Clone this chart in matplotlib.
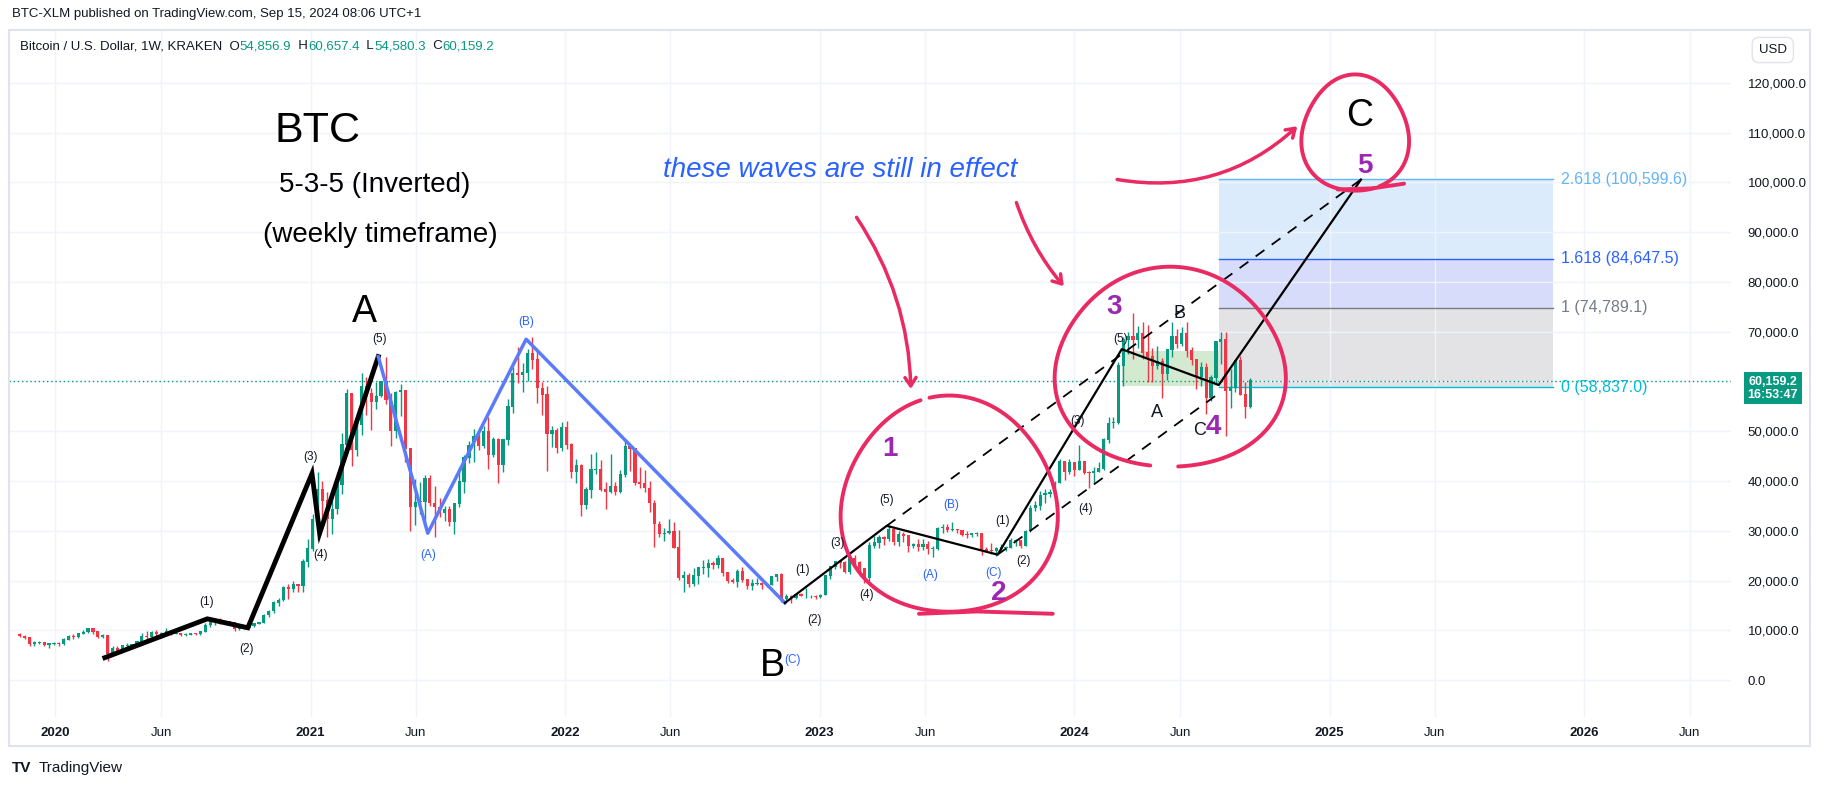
import numpy as np
import pandas as pd
import matplotlib
matplotlib.use("Agg")
import matplotlib.pyplot as plt
import matplotlib.dates as mdates
import matplotlib.transforms as mtrans
from matplotlib.patches import Rectangle, FancyArrowPatch

plt.rcParams["font.family"] = "Liberation Sans"

# ---------------- DATA (weekly BTC/USD, thousands USD) ----------------
first_open = 9.2
closes = [
 8.8,8.5,7.3,7.4, 7.5,7.1,7.2,7.3,7.2,
 8.0,8.7,8.6,9.3, 9.6,10.3,9.7,8.7, 8.9,5.3,6.2,5.9,6.8, 6.9,7.1,7.6,8.8,
 8.7,9.6,9.2,9.4, 9.7,9.3,9.3,9.1,9.1, 9.3,9.2,9.7,11.0, 11.6,11.9,11.6,11.7,11.5,
 10.3,10.4,10.5,10.8, 11.3,11.5,13.0,13.8, 15.5,16.0,18.6,18.2,19.2, 18.8,23.8,26.4,32.2,
 38.2,36.0,32.3,34.3, 39.2,47.2,57.5,46.3, 51.2,59.0,57.5,55.8,57.0, 60.0,56.2,50.0,57.8,
 58.2,46.4,34.7,35.7,35.8, 40.5,35.5,34.7,33.5, 34.3,31.8,35.4,39.9, 44.6,47.1,48.8,47.0,49.9,
 45.2,48.3,43.2,48.2, 54.9,61.5,61.3,61.8, 65.5,64.3,58.6,57.3,49.4, 50.1,46.7,50.8,47.3,
 41.8,43.1,35.1,38.2, 42.2,42.2,38.2,37.7, 38.9,37.8,41.3,46.8, 46.4,39.7,39.4,38.5,
 35.5,31.3,29.4,29.5,29.9, 26.6,20.6,21.0,19.3, 20.9,22.5,22.5,23.3, 23.2,24.4,21.5,20.0,19.8,
 21.8,20.1,18.8,19.4, 19.4,19.2,19.2,20.8,21.2, 16.3,16.7,16.5,17.1, 16.8,16.8,16.8,16.6,
 17.0,20.9,22.8,23.8,23.5, 21.7,24.3,23.5,22.4, 20.5,26.9,27.5,28.5, 28.3,30.3,27.8,29.3,
 28.9,26.9,27.1,26.7,27.1, 26.3,26.3,30.5,30.6, 30.2,30.3,30.1,29.2,29.1, 29.4,29.4,26.1,26.0,
 25.9,26.3,26.5,26.6, 27.9,27.9,26.9,29.9,34.5, 35.0,37.1,37.4,37.7, 39.5,43.8,41.9,43.6,
 42.3,43.9,41.7,41.6,41.8, 42.5,48.3,51.6,51.7, 63.1,68.3,68.9,68.4, 69.6,65.7,64.9,63.1,63.9,
 61.5,66.3,69.0,67.5, 69.6,66.2,64.3,60.9, 62.7,56.6,60.8,67.9,68.3, 58.1,58.7,64.1,57.3,
 54.857,60.159]
highs = [
 9.5,9.1,8.6,7.8, 7.8,7.6,7.5,7.7,7.6,
 8.5,9.0,9.2,9.5, 10.0,10.5,10.2,9.8, 9.2,9.0,6.9,6.9,7.0, 7.5,7.2,7.8,9.5,
 9.9,9.9,10.0,9.6, 10.4,9.9,9.6,9.5,9.4, 9.5,9.4,9.8,11.4, 12.1,12.3,12.4,11.8,11.9,
 11.5,10.7,11.1,10.9, 11.5,11.7,13.3,14.0, 15.9,16.5,18.8,19.4,19.9, 19.4,24.3,28.4,33.3,
 41.9,40.1,37.8,38.5, 40.9,49.7,58.4,57.5, 52.5,61.8,61.0,58.6,59.8, 60.1,64.9,57.6,58.0,
 59.5,58.0,46.5,40.4,39.8, 41.3,41.3,39.0,36.6, 35.0,35.0,35.5,42.6, 45.3,48.1,50.5,49.4,51.0,
 52.9,48.8,48.6,48.3, 56.5,62.9,67.0,63.7, 66.5,69.0,66.3,59.8,59.1, 51.0,50.6,51.9,52.0,
 47.6,44.4,43.4,38.7, 45.5,45.9,44.2,39.9, 45.4,39.9,42.3,48.2, 47.4,43.8,42.9,42.3,
 40.0,36.2,32.0,30.6,32.4, 31.7,30.1,21.9,21.5, 22.5,21.5,24.2,24.4, 24.0,25.2,24.4,21.7,20.5,
 22.4,22.8,20.4,20.4, 20.5,19.7,19.6,21.0,21.0, 21.5,17.2,17.1,17.3, 17.4,18.4,17.0,17.0,
 17.3,21.2,23.0,23.9,24.2, 23.9,25.0,25.2,23.9, 22.6,27.8,28.9,29.1, 28.9,31.0,30.5,30.0,
 29.8,28.9,27.6,28.3,28.4, 28.0,27.0,30.8,31.4, 31.4,31.8,30.4,30.0,30.0, 29.4,29.7,29.4,26.8,
 27.5,26.8,27.4,27.0, 28.6,28.3,28.0,30.2,35.2, 35.9,37.9,38.4,38.4, 40.0,44.5,43.4,44.4,
 43.8,47.2,43.5,42.0,42.8, 43.8,48.7,52.8,52.9, 64.0,68.9,70.0,73.8, 71.2,72.0,71.3,66.8,67.2,
 64.8,66.4,71.9,70.6, 71.0,71.9,66.9,64.5, 64.0,63.8,61.4,68.2,69.9, 70.0,62.6,61.6,65.1,
 59.8,60.657]
lows = [
 8.6,8.3,6.8,6.9, 7.2,6.9,6.5,7.0,6.9,
 7.0,8.0,8.3,8.5, 9.2,9.5,9.3,8.5, 8.4,3.9,5.1,5.7,6.2, 6.5,6.5,7.0,7.5,
 8.1,8.4,8.9,8.5, 9.3,9.1,9.2,8.9,8.9, 9.0,9.0,9.1,9.7, 10.6,11.1,11.2,11.2,11.1,
 9.9,10.0,10.3,10.5, 10.6,11.2,11.4,12.7, 13.5,14.8,15.8,16.2,17.6, 17.6,17.7,22.7,26.0,
 28.1,30.3,28.8,29.3, 33.4,37.4,46.3,43.0, 45.0,49.3,53.3,50.3,54.5, 56.8,55.4,47.0,48.6,
 53.0,43.8,30.0,31.2,33.4, 31.0,34.9,28.8,32.7, 32.0,30.9,29.3,34.7, 37.6,43.7,43.9,46.3,46.6,
 42.5,44.8,39.6,41.9, 47.3,53.7,59.6,57.8, 60.0,62.5,55.6,53.3,42.0, 46.8,45.6,46.0,46.5,
 40.6,39.6,33.0,34.3, 36.6,41.5,38.0,34.3, 37.6,37.1,37.6,40.9, 42.1,39.2,38.6,37.7,
 33.7,26.7,28.7,28.0,29.3, 29.2,20.1,17.6,18.7, 18.8,19.3,21.3,20.7, 22.4,22.6,20.9,19.6,19.5,
 18.6,19.8,18.2,18.1, 19.1,18.2,18.6,19.1,20.0, 15.6,16.0,15.4,16.2, 16.8,16.5,16.4,16.3,
 16.5,17.0,20.4,22.3,22.5, 21.5,21.4,23.1,21.0, 19.6,20.0,26.6,26.6, 27.2,28.0,27.1,27.0,
 27.7,25.8,26.5,26.0,26.2, 25.3,24.8,26.2,29.6, 29.7,29.9,29.5,29.0,28.6, 28.7,29.0,25.2,25.8,
 25.4,24.9,26.2,26.0, 26.6,27.0,26.5,26.9,29.8, 33.9,34.1,35.6,36.7, 37.5,39.6,40.2,41.5,
 41.1,42.6,41.5,38.5,39.5, 41.9,42.2,47.7,50.7, 51.4,59.0,65.6,64.6, 66.8,64.5,59.8,59.8,62.5,
 56.6,60.3,64.9,66.7, 67.2,65.0,63.3,58.4, 59.0,53.5,56.0,59.6,63.5, 49.0,54.7,57.8,57.2,
 52.6,54.580]
last_price = 60159.2

wave1_dates = ["2020-03-12", "2020-08-06", "2020-10-03", "2021-01-03", "2021-01-14", "2021-04-08"]
wave1_prices = [4500, 12300, 10500, 41500, 29500, 65000]
waveABC_dates = ["2021-04-08", "2021-06-18", "2021-11-06", "2022-11-12"]
waveABC_prices = [65000, 29500, 68500, 15500]
wave2_dates = ["2022-11-12", "2023-04-07", "2023-09-13", "2024-03-09", "2024-07-26", "2025-02-15"]
wave2_prices = [15500, 31000, 25200, 66500, 59300, 100600]
upper_ch_dates = ["2023-04-07", "2025-02-15"]
upper_ch_prices = [31000, 100600]
lower_ch_dates = ["2023-09-13", "2024-07-26"]
lower_ch_prices = [25200, 57600]
green_box = ("2024-03-09", "2024-07-26", 59100, 66100)
fib_start = "2024-07-26"
fib_end = "2025-11-17"
fib_ratios = ["0", "1", "1.618", "2.618"]
fib_levels = [58837.0, 74789.1, 84647.5, 100599.6]
fib_colors = ["#00bcd4", "#787b86", "#2962ff", "#64b5f6"]
fib_fills = ["#e3e3e5", "#d6dcfa", "#dcebfb"]

# ---------------- FIGURE ----------------
W, H = 1568.0, 677.0  # reference working frame
fig = plt.figure(figsize=(18.24, 7.87), dpi=100)
T = mtrans.Affine2D().scale(1 / W, -1 / H).translate(0, 1) + fig.transFigure

ax = fig.add_axes([8 / W, 1 - 617 / H, 1480 / W, 591 / H])
base = mdates.date2num(pd.Timestamp("2021-01-01"))
ppd = 0.5996  # px per day
ax.set_xlim(base - 259 / ppd, base + 1221 / ppd)
ax.set_ylim(-7480, 130600)
for s in ax.spines.values():
    s.set_visible(False)
ax.set_zorder(1)

dates = pd.date_range(end="2024-09-09", periods=len(closes), freq="W-MON")
xs = mdates.date2num(dates)
c = np.array(closes) * 1000
o = np.concatenate([[first_open * 1000], c[:-1]])
hi = np.maximum(np.array(highs) * 1000, np.maximum(o, c))
lo = np.minimum(np.array(lows) * 1000, np.minimum(o, c))
up = c >= o
col = np.where(up, "#089981", "#f23645")
ax.vlines(xs, lo, hi, colors=col, lw=1, zorder=3)
ax.bar(xs, np.abs(c - o) + 150, bottom=np.minimum(o, c), width=4.6, color=col, zorder=3, linewidth=0)

# grid
yt = np.arange(0, 130000, 10000)
ax.set_yticks(yt)
ax.set_yticklabels(["" if v == 60000 else f"{v:,.1f}" for v in yt])
ax.yaxis.tick_right()
ax.tick_params(axis="y", length=0, pad=12, labelsize=9.5, labelcolor="#131722")
xt, xl = [], []
for yr in range(2020, 2027):
    xt += [mdates.date2num(pd.Timestamp(f"{yr}-01-01")), mdates.date2num(pd.Timestamp(f"{yr}-06-01"))]
    xl += [str(yr), "Jun"]
ax.set_xticks(xt)
ax.set_xticklabels(xl)
ax.tick_params(axis="x", length=0, pad=7, labelsize=9.5, labelcolor="#131722")
for lab in ax.get_xticklabels():
    if lab.get_text() != "Jun":
        lab.set_fontweight("bold")
ax.grid(True, color="#f0f3fa", lw=1, zorder=0)

# fib
fx0 = mdates.date2num(pd.Timestamp(fib_start))
fx1 = mdates.date2num(pd.Timestamp(fib_end))
for i in range(3):
    ax.add_patch(Rectangle((fx0, fib_levels[i]), fx1 - fx0, fib_levels[i + 1] - fib_levels[i],
                           facecolor=fib_fills[i], edgecolor="none", zorder=1))
BT = mtrans.blended_transform_factory(T, ax.transData)
for r, lv, cc in zip(fib_ratios, fib_levels, fib_colors):
    ax.plot([fx0, fx1], [lv, lv], color=cc, lw=1, zorder=2)
    ax.text(1342, lv, f"{r} ({lv:,.1f})", transform=BT, color=cc, fontsize=11.5, va="center", ha="left", zorder=6)

gx0, gx1 = mdates.date2num(pd.Timestamp(green_box[0])), mdates.date2num(pd.Timestamp(green_box[1]))
ax.add_patch(Rectangle((gx0, green_box[2]), gx1 - gx0, green_box[3] - green_box[2],
                       facecolor="#cfe8cc", edgecolor="none", alpha=0.9, zorder=2))

ax.axhline(last_price, color="#089981", lw=1, ls=(0, (1, 2)), zorder=2)

def dn(d):
    return mdates.date2num(pd.to_datetime(d))

ax.plot(dn(wave1_dates), wave1_prices, color="black", lw=3.5, zorder=5, solid_joinstyle="miter")
ax.plot(dn(waveABC_dates), waveABC_prices, color="#5b7cfa", lw=2.5, zorder=5)
ax.plot(dn(wave2_dates), wave2_prices, color="black", lw=1.6, zorder=5)
ax.plot(dn(upper_ch_dates), upper_ch_prices, color="black", lw=1.3, ls=(0, (6, 5)), zorder=5)
ax.plot(dn(lower_ch_dates), lower_ch_prices, color="black", lw=1.3, ls=(0, (6, 5)), zorder=5)

# ---------------- annotations (reference-frame pixels) ----------------
def t(x, y, s, **kw):
    kw.setdefault("ha", "center")
    kw.setdefault("va", "center")
    fig.text(x, y, s, transform=T, zorder=10, **kw)

small = dict(fontsize=8.5, color="#131722")
blue_s = dict(fontsize=8.5, color="#2962ff")
for (x, y, s) in [(178, 518, "(1)"), (212, 558, "(2)"), (267, 393, "(3)"), (276, 477, "(4)"), (326, 292, "(5)"),
                  (690, 490, "(1)"), (700, 533, "(2)"), (720, 467, "(3)"), (745, 512, "(4)"), (762, 430, "(5)"),
                  (862, 448, "(1)"), (880, 483, "(2)"), (926, 362, "(3)"), (933, 438, "(4)"), (963, 292, "(5)")]:
    t(x, y, s, **small)
for (x, y, s) in [(368, 477, "(A)"), (452, 277, "(B)"), (681, 568, "(C)"),
                  (800, 495, "(A)"), (818, 434, "(B)"), (854, 493, "(C)")]:
    t(x, y, s, **blue_s)
for (x, y, s) in [(995, 355, "A"), (1014, 270, "B"), (1031, 370, "C")]:
    t(x, y, s, fontsize=13, color="#131722")
for (x, y, s) in [(313, 268, "A"), (664, 573, "B"), (1169, 100, "C")]:
    t(x, y, s, fontsize=27, color="black")
for (x, y, s) in [(765, 386, "1"), (859, 510, "2"), (958, 264, "3"), (1043, 367, "4"), (1173, 143, "5")]:
    t(x, y, s, fontsize=20, color="#9c27b0", fontweight="bold")

t(236, 113, "BTC", fontsize=31, ha="left")
t(240, 159, "5-3-5 (Inverted)", fontsize=20, ha="left")
t(226, 202, "(weekly timeframe)", fontsize=20, ha="left")
t(570, 146, "these waves are still in effect", fontsize=20, ha="left", color="#2962ff", style="italic")

# header / footer
t(10, 12, "BTC-XLM published on TradingView.com, Sep 15, 2024 08:06 UTC+1", fontsize=9.5, ha="left", color="#131722")
hx = 17
parts = [("Bitcoin / U.S. Dollar, 1W, KRAKEN  O", "#131722"), ("54,856.9", "#089981"), ("  H", "#131722"),
         ("60,657.4", "#089981"), ("  L", "#131722"), ("54,580.3", "#089981"), ("  C", "#131722"), ("60,159.2", "#089981")]
renderer = fig.canvas.get_renderer()
for s, cc in parts:
    tx = fig.text(hx, 40, s, transform=T, fontsize=9.5, color=cc, ha="left", va="center")
    bb = tx.get_window_extent(renderer)
    hx += bb.width * W / 1824
t(33, 661, "TradingView", fontsize=11, ha="left", color="#131722")
t(10, 661, "TV", fontsize=11, ha="left", color="#131722", fontweight="bold")
t(1524, 43, "USD", fontsize=9.5, color="#131722",
  bbox=dict(boxstyle="round,pad=0.5", fc="white", ec="#e0e3eb"))
t(1524, 334, "60,159.2\n16:53:47", fontsize=9, color="white", fontweight="bold", linespacing=1.1,
  bbox=dict(boxstyle="square,pad=0.3", fc="#089981", ec="none"))

fig.patches.append(Rectangle((8, 26), 1548, 616, transform=T, fill=False, ec="#e0e3eb", lw=1.5))

# pink hand-drawn marks
pink = "#ea2a62"
def curve(xy, lw=2.8):
    a = np.array(xy, dtype=float)
    fig.lines.append(plt.Line2D(a[:, 0], a[:, 1], transform=T, color=pink, lw=lw, solid_capstyle="round",
                                solid_joinstyle="round", zorder=9))

def loop(cx, cy, rx, ry, t0, t1, wob=0.0):
    th = np.linspace(t0, t1, 120)
    r = 1 + wob * np.sin(3 * th)
    curve(np.c_[cx + rx * r * np.cos(th), cy + ry * r * np.sin(th)])

loop(816, 436, 93, 93, -1.75, 4.45, 0.03)
curve([[790, 528], [840, 526], [905, 528]])
loop(1006, 318, 99, 86, 1.75, 1.75 + 2 * np.pi - 0.25, 0.03)
loop(1165, 116, 46, 50, 1.2, 1.2 + 2 * np.pi - 0.1, 0.04)
curve([[1150, 163], [1180, 162], [1207, 158]])

fig.patches.append(FancyArrowPatch((735, 185), (783, 337), transform=T, connectionstyle="arc3,rad=-0.15",
                                   arrowstyle="->,head_length=6,head_width=4", color=pink, lw=2.5, zorder=9))
fig.patches.append(FancyArrowPatch((873, 172), (916, 248), transform=T, connectionstyle="arc3,rad=0.1",
                                   arrowstyle="->,head_length=6,head_width=4", color=pink, lw=2.5, zorder=9))
fig.patches.append(FancyArrowPatch((958, 154), (1117, 107), transform=T, connectionstyle="arc3,rad=0.25",
                                   arrowstyle="->,head_length=6,head_width=4", color=pink, lw=2.5, zorder=9))

fig.savefig("out.png", dpi=100, facecolor="white")
